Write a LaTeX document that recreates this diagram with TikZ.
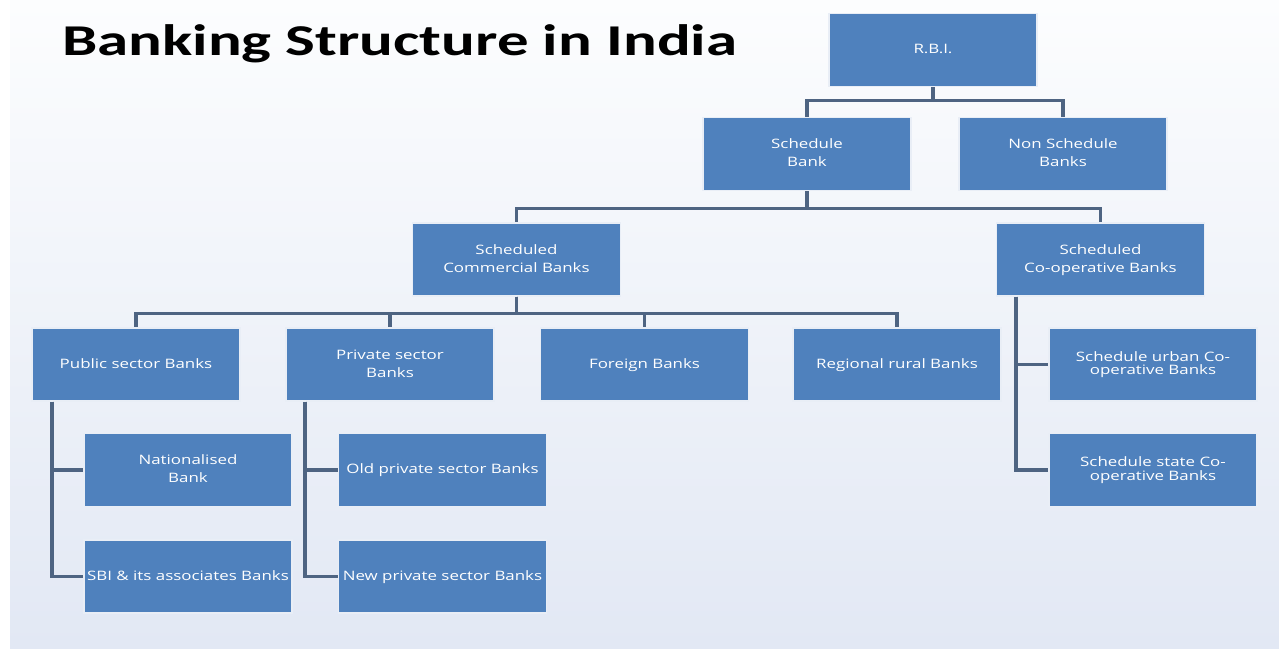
\documentclass[tikz,border=0pt]{standalone}
\usepackage{fontspec}
\usepackage{graphicx}
\newfontfamily\boxfont{Open Sans}
\newfontfamily\titlefont{Carlito}
\definecolor{boxblue}{HTML}{4F81BD}
\definecolor{boxedge}{HTML}{E9EEF6}
\definecolor{connc}{HTML}{4E6482}
\definecolor{bgtop}{HTML}{FCFDFE}
\definecolor{bgbot}{HTML}{E2E8F4}
\newcommand\bt[1]{\scalebox{1.3}[1]{\boxfont\fontsize{13}{18}\selectfont\begin{tabular}{@{}c@{}}#1\end{tabular}}}
\tikzset{
  bank/.style={draw=boxedge, line width=1.2pt, fill=boxblue, text=white,
    minimum width=208pt, minimum height=73pt, inner sep=0pt, align=center},
  conn/.style={draw=connc, line width=3.2pt}
}
\begin{document}
\begin{tikzpicture}[x=1pt,y=-1pt]
\useasboundingbox (0,0) rectangle (1279,648);
\fill[white] (0,0) rectangle (1279,648);
\shade[top color=bgtop, bottom color=bgbot] (10,0) rectangle (1279,648);

\node[anchor=base west, inner sep=0pt] (title) at (62,55)
  {\scalebox{1.43}[1]{\titlefont\bfseries\fontsize{44}{50}\selectfont Banking Structure in India}};

% connectors (drawn first so boxes sit on top)
\path (933,50) node[bank] (rbi) {\bt{R.B.I.}};
\node[bank] (sb) at (807,154) {\bt{Schedule\\Bank}};
\node[bank] (nsb) at (1063,154) {\bt{Non Schedule\\Banks}};
\node[bank] (scb) at (516.5,259.5) {\bt{Scheduled\\Commercial Banks}};
\node[bank] (scoop) at (1100.5,259.5) {\bt{Scheduled\\Co-operative Banks}};

\node[bank] (psb) at (136,364.5) {\bt{Public sector Banks}};
\node[bank] (prsb) at (390,364.5) {\bt{Private sector\\Banks}};
\node[bank] (fb) at (644.5,364.5) {\bt{Foreign Banks}};
\node[bank] (rrb) at (897,364.5) {\bt{Regional rural Banks}};

\node[bank] (suc) at (1153,364.5) {\bt{Schedule urban Co-\\[-4.7pt]operative Banks}};
\node[bank] (ssc) at (1153,470) {\bt{Schedule state Co-\\[-4.7pt]operative Banks}};

\node[bank] (nat) at (188,470) {\bt{Nationalised\\Bank}};
\node[bank] (sbi) at (188,576.5) {\bt{SBI \& its associates Banks}};
\node[bank] (old) at (442.5,470) {\bt{Old private sector Banks}};
\node[bank] (new) at (442.5,576.5) {\bt{New private sector Banks}};

\draw[conn] (rbi.south) -- ++(0,13) -| (sb.north);
\draw[conn] (rbi.south) -- ++(0,13) -| (nsb.north);
\draw[conn] (sb.south) -- ++(0,17) -| (scb.north);
\draw[conn] (sb.south) -- ++(0,17) -| (scoop.north);
\foreach \t in {psb,prsb,fb,rrb}
  \draw[conn] (scb.south) -- ++(0,17) -| (\t.north);
\draw[conn] ([xshift=-84.5pt]scoop.south) |- (suc.west);
\draw[conn] ([xshift=-84.5pt]scoop.south) |- (ssc.west);
\draw[conn] ([xshift=-84pt]psb.south) |- (nat.west);
\draw[conn] ([xshift=-84pt]psb.south) |- (sbi.west);
\draw[conn] ([xshift=-85pt]prsb.south) |- (old.west);
\draw[conn] ([xshift=-85pt]prsb.south) |- (new.west);
\end{tikzpicture}
\end{document}
